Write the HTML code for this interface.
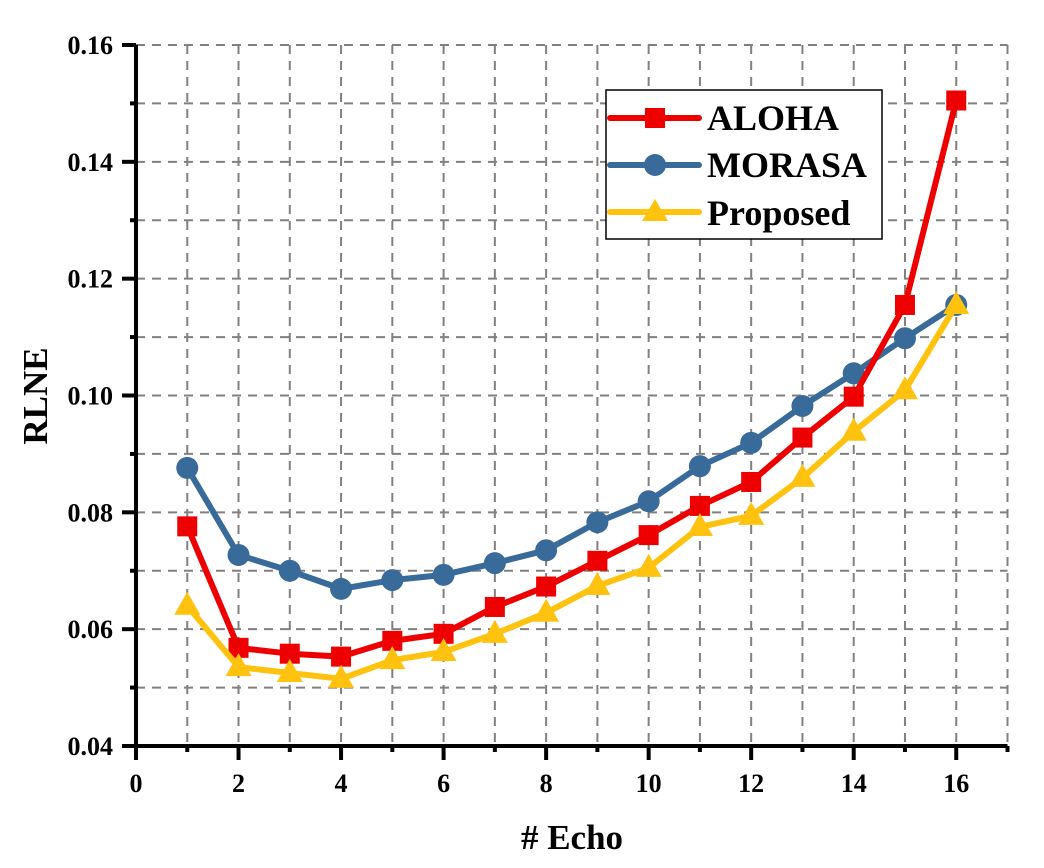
<!DOCTYPE html>
<html><head><meta charset="utf-8"><style>
html,body{margin:0;padding:0;background:#fff;}
svg text{font-family:"Liberation Serif",serif;font-weight:bold;fill:#000;}
</style></head><body>
<svg id="chart" width="1044" height="863" viewBox="0 0 1044 863" xmlns="http://www.w3.org/2000/svg">
<g id="grid"></g>
<g id="axes"></g>
<g id="series"></g>
<text transform="translate(47,396) rotate(-90)" text-anchor="middle" font-size="35">RLNE</text>
<text x="572" y="849" text-anchor="middle" font-size="35"># Echo</text>
<g>
<rect x="606" y="90" width="276" height="149" fill="#fff" stroke="#000" stroke-width="1.5"/>
<g>
<line x1="610" y1="118" x2="699" y2="118" stroke="#EE0000" stroke-width="6" stroke-linecap="round"/>
<rect x="645" y="108" width="20" height="20" fill="#EE0000"/>
<text x="707" y="130" font-size="36">ALOHA</text></g>
<g>
<line x1="610" y1="165" x2="699" y2="165" stroke="#386A9A" stroke-width="6" stroke-linecap="round"/>
<circle cx="655" cy="165" r="11" fill="#386A9A"/>
<text x="707" y="177" font-size="36">MORASA</text></g>
<g>
<line x1="610" y1="212" x2="699" y2="212" stroke="#FFC20E" stroke-width="6" stroke-linecap="round"/>
<polygon points="655,199 668,221 642,221" fill="#FFC20E"/>
<text x="707" y="225" font-size="36">Proposed</text></g>
</g>
</svg>
<script>
const echoes=[1,2,3,4,5,6,7,8,9,10,11,12,13,14,15,16];
const aloha=[0.0776,0.0568,0.0558,0.0553,0.0580,0.0592,0.0638,0.0673,0.0717,0.0761,0.0811,0.0852,0.0928,0.0998,0.1155,0.1505];
const morasa=[0.0876,0.0727,0.0700,0.0669,0.0684,0.0693,0.0713,0.0735,0.0783,0.0819,0.0879,0.0919,0.0982,0.1038,0.1098,0.1155];
const proposed=[0.0640,0.0535,0.0525,0.0515,0.0547,0.0561,0.0592,0.0628,0.0674,0.0705,0.0775,0.0794,0.0859,0.0938,0.1009,0.1155];
const xTicks=[0,2,4,6,8,10,12,14,16];
const yTicks=[0.04,0.06,0.08,0.10,0.12,0.14,0.16];
const yTickLabels=["0.04","0.06","0.08","0.10","0.12","0.14","0.16"];

const NS="http://www.w3.org/2000/svg";
const X0=136,X1=1007.5,XMAX=17,Y0=746,Y1=45,YMIN=0.04,YMAX=0.16;
const xs=v=>X0+(v/XMAX)*(X1-X0);
const ys=v=>Y0-(v-YMIN)/(YMAX-YMIN)*(Y0-Y1);
function mk(tag,attrs,parent){const e=document.createElementNS(NS,tag);for(const k in attrs)e.setAttribute(k,attrs[k]);parent.appendChild(e);return e;}
const grid=document.getElementById('grid'),axes=document.getElementById('axes'),series=document.getElementById('series');
for(let i=1;i<=XMAX;i++){const l=mk('line',{x1:xs(i),x2:xs(i),y1:Y1,y2:Y0,stroke:'#808080','stroke-width':2,'stroke-dasharray':'9,7'},grid);

}
for(let v=0.05;v<=0.1601;v+=0.01){const l=mk('line',{x1:X0,x2:X1,y1:ys(v),y2:ys(v),stroke:'#808080','stroke-width':2,'stroke-dasharray':'9,7'},grid);

}
let a=mk('line',{x1:X0,x2:X0,y1:Y1,y2:Y0+2,stroke:'#000','stroke-width':4},axes);


a=mk('line',{x1:X0-2,x2:X1,y1:Y0,y2:Y0,stroke:'#000','stroke-width':4},axes);


for(let i=0;i<=XMAX;i++){const major=i%2===0;const t=mk('line',{x1:xs(i),x2:xs(i),y1:Y0,y2:Y0+(major?14:6),stroke:'#000','stroke-width':4},axes);

}
xTicks.forEach(v=>{const t=mk('text',{x:xs(v),y:792,'text-anchor':'middle','font-size':26},axes);t.textContent=String(v);

});
for(let v=0.04;v<=0.1601;v+=0.01){const major=Math.round(v*100)%2===0;const t=mk('line',{x1:X0-(major?14:6),x2:X0,y1:ys(v),y2:ys(v),stroke:'#000','stroke-width':4},axes);

}
yTicks.forEach((v,i)=>{const t=mk('text',{x:113,y:ys(v)+9,'text-anchor':'end','font-size':26},axes);t.textContent=yTickLabels[i];

});
function draw(vals,color,shape,name){
const g=mk('g',{},series);


const pts=vals.map((v,i)=>xs(echoes[i])+','+ys(v)).join(' ');
const pl=mk('polyline',{points:pts,fill:'none',stroke:color,'stroke-width':6,'stroke-linejoin':'round'},g);


vals.forEach((v,i)=>{const cx=xs(echoes[i]),cy=ys(v);let m;
if(shape==='square')m=mk('rect',{x:cx-10,y:cy-10,width:20,height:20,fill:color},g);
else if(shape==='circle')m=mk('circle',{cx:cx,cy:cy,r:11,fill:color},g);
else m=mk('polygon',{points:`${cx},${cy-14} ${cx+13},${cy+9} ${cx-13},${cy+9}`,fill:color},g);

});
}
draw(morasa,'#386A9A','circle','morasa');
draw(aloha,'#EE0000','square','aloha');
draw(proposed,'#FFC20E','triangle','proposed');
</script>
</body></html>
